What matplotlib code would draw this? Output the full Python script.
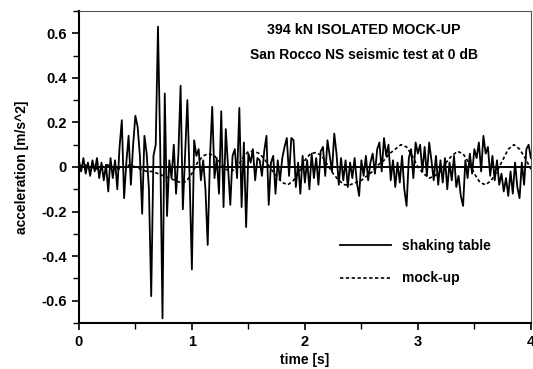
import numpy as np
import matplotlib
matplotlib.use("Agg")
import matplotlib.pyplot as plt
from matplotlib.ticker import MultipleLocator

plt.rcParams['font.family'] = ['Liberation Sans', 'DejaVu Sans']
plt.rcParams['font.weight'] = 'bold'
plt.rcParams['axes.labelweight'] = 'bold'

# shaking table record, sampled every 0.02 s from 0 to 4 s
dt_table = 0.02
table_acc = [
    0.03, -0.02, 0.04, -0.03, 0.02,
    -0.04, 0.03, -0.02, 0.04, -0.05,
    0.02, -0.06, 0.01, -0.11, 0.04,
    -0.05, 0.03, -0.10, 0.09, 0.21,
    -0.14, 0.02, 0.14, -0.08, 0.10,
    0.23, 0.18, 0.05, -0.21, 0.14,
    0.06, -0.10, -0.58, 0.05, 0.10,
    0.63, 0.08, -0.68, 0.33, -0.22,
    0.03, -0.05, 0.10, -0.12, 0.05,
    0.365, -0.19, 0.05, 0.30, -0.05,
    -0.46, 0.12, 0.05, 0.08, -0.06,
    0.03, -0.10, -0.35, 0.04, 0.27,
    -0.05, 0.04, -0.12, 0.25, -0.18,
    0.17, 0.00, -0.17, 0.05, 0.08,
    -0.05, 0.265, -0.18, 0.11, -0.27,
    0.06, 0.02, 0.08, -0.06, 0.04,
    0.03, -0.04, 0.07, 0.14, -0.17,
    0.02, 0.05, -0.12, 0.03, -0.06,
    0.04, 0.09, 0.13, -0.04, 0.13,
    0.12, -0.09, 0.02, -0.12, 0.05,
    -0.07, 0.03, -0.10, 0.06, -0.05,
    0.04, -0.08, 0.07, 0.09, -0.04,
    0.12, 0.05, -0.02, 0.15, 0.06,
    -0.08, 0.04, -0.06, 0.03, -0.09,
    0.02, -0.05, 0.04, -0.07, -0.13,
    0.03, -0.04, 0.05, -0.06, 0.02,
    0.06, -0.03, 0.08, 0.11, -0.02,
    0.13, 0.05, 0.10, -0.06, 0.03,
    -0.09, 0.02, -0.07, 0.05, -0.10,
    -0.175, 0.04, 0.08, -0.05, 0.11,
    0.06, 0.10, -0.02, 0.09, -0.04,
    0.11, 0.03, -0.06, 0.05, -0.08,
    0.03, -0.07, 0.04, -0.10, 0.02,
    -0.06, 0.05, -0.09, -0.04, -0.13,
    -0.175, 0.03, -0.05, 0.06, -0.03,
    0.08, 0.04, 0.11, -0.02, 0.14,
    0.06, 0.09, -0.04, 0.05, -0.06,
    0.03, -0.08, -0.03, -0.11, -0.05,
    -0.13, -0.02, -0.12, 0.02, -0.09,
    -0.14, 0.02, -0.08, 0.08, 0.10,
    0.04,
]

# mock-up response, sampled every 0.05 s from 0 to 4 s
dt_mock = 0.05
mock_acc = [
    0.00, 0.01, 0.00, -0.01, 0.00, 0.01, 0.00, -0.01, 0.00, 0.01,
    0.00, -0.01, -0.02, -0.02, -0.03, -0.04, -0.05, -0.06, -0.07, -0.065,
    -0.03, 0.02, 0.05, 0.06, 0.05, 0.02, -0.01, -0.02, 0.00, 0.04,
    0.07, 0.07, 0.06, 0.03, -0.01, -0.04, -0.07, -0.08, -0.06, -0.02,
    0.03, 0.06, 0.065, 0.05, 0.01, -0.03, -0.06, -0.08, -0.08, -0.07,
    -0.06, -0.04, -0.02, 0.01, 0.03, 0.06, 0.08, 0.10, 0.09, 0.05,
    0.00, -0.03, -0.05, -0.04, -0.02, 0.02, 0.05, 0.07, 0.06, 0.02,
    -0.03, -0.07, -0.08, -0.06, -0.02, 0.03, 0.08, 0.10, 0.08, 0.04,
    -0.01,
]

table_t = np.arange(len(table_acc)) * dt_table
mock_t = np.arange(len(mock_acc)) * dt_mock

fig = plt.figure(figsize=(5.33, 3.69), dpi=100)
ax = fig.add_axes([0.148, 0.125, 0.848, 0.845])

ax.axhline(0, color='black', lw=1.4, zorder=1)
ax.plot(table_t, table_acc, color='black', lw=1.3, label='shaking table', zorder=3)
ax.plot(mock_t, mock_acc, color='black', lw=1.2, linestyle=(0, (2, 1.5)),
        label='mock-up', zorder=2)

ax.set_xlim(0, 4)
ax.set_ylim(-0.7, 0.7)
ax.xaxis.set_major_locator(MultipleLocator(1))
ax.xaxis.set_minor_locator(MultipleLocator(0.5))
ax.yaxis.set_minor_locator(MultipleLocator(0.1))
ax.set_yticks([-0.6, -0.4, -0.2, 0, 0.2, 0.4, 0.6])
ax.set_yticklabels(['-0.6', '-0.4', '-0.2', '0', '0.2', '0.4', '0.6'])
ax.tick_params(which='major', length=5, width=1.2, labelsize=10.5)
ax.tick_params(which='minor', length=4, width=1.0)
for side in ['left', 'bottom']:
    ax.spines[side].set_linewidth(1.5)
for side in ['top', 'right']:
    ax.spines[side].set_linewidth(0.8)
    ax.spines[side].set_color('#555555')

ax.set_xlabel('time [s]', fontsize=10, labelpad=3)
ax.set_ylabel('acceleration [m/s^2]', fontsize=10, labelpad=9)

ax.text(0.63, 0.94, '394 kN ISOLATED MOCK-UP', transform=ax.transAxes,
        ha='center', va='center', fontsize=10.3)
ax.text(0.63, 0.86, 'San Rocco NS seismic test at 0 dB', transform=ax.transAxes,
        ha='center', va='center', fontsize=10)

ax.legend(loc='upper left', bbox_to_anchor=(0.55, 0.31), frameon=False,
          fontsize=10, handlelength=3.7, handletextpad=0.8, labelspacing=1.35)

fig.savefig('out.png', dpi=100)
